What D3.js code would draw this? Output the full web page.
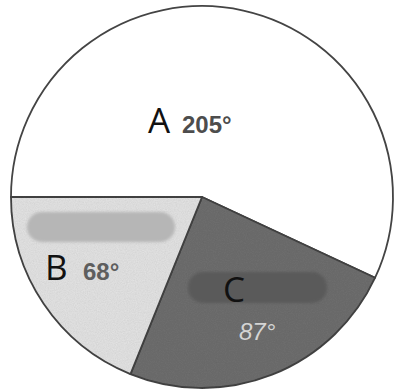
<!DOCTYPE html>
<html><head><meta charset="utf-8">
<script src="https://cdn.jsdelivr.net/npm/d3@7"></script>
<style>html,body{margin:0;padding:0;background:#fff;}svg{display:block;}</style>
</head><body>
<script>
const categories = ["A", "B", "C"];
const degrees = [205, 68, 87];
const labels = ["205°", "68°", "87°"];
const drawOrder = ["A", "C", "B"]; // clockwise from the left horizontal

const W = 395, H = 392;
const cx = 202, cy = 197, R = 191;
const fills = {A: "#ffffff", B: "#e5e5e5", C: "#6f6f6f"};

const svg = d3.select("body").append("svg").attr("width", W).attr("height", H);
const defs = svg.append("defs");
const blur = defs.append("filter").attr("id", "blur").attr("x", "-20%").attr("y", "-50%").attr("width", "140%").attr("height", "200%");
blur.append("feGaussianBlur").attr("stdDeviation", 1.5);
const grain = defs.append("filter").attr("id", "grain");
grain.append("feTurbulence").attr("type", "fractalNoise").attr("baseFrequency", 0.9).attr("numOctaves", 2).attr("seed", 3).attr("result", "n");
grain.append("feColorMatrix").attr("in", "n").attr("type", "matrix")
  .attr("values", "0 0 0 0 0  0 0 0 0 0  0 0 0 0 0  0 0 0 0.18 0").attr("result", "a");
grain.append("feComposite").attr("in", "a").attr("in2", "SourceGraphic").attr("operator", "in").attr("result", "g");
grain.append("feMerge").selectAll("feMergeNode").data(["SourceGraphic", "g"]).join("feMergeNode").attr("in", d => d);

const data = drawOrder.map(c => ({cat: c, value: degrees[categories.indexOf(c)], label: labels[categories.indexOf(c)]}));
const pie = d3.pie().sort(null).value(d => d.value)
  .startAngle(-Math.PI / 2).endAngle(3 * Math.PI / 2);
const arc = d3.arc().innerRadius(0).outerRadius(R);
const arcs = pie(data);

const g = svg.append("g").attr("transform", `translate(${cx},${cy})`);
g.selectAll("path.slice").data(arcs).join("path").attr("class", "slice")
  .attr("d", arc)
  .attr("fill", d => fills[d.data.cat])
  .attr("filter", d => d.data.cat === "A" ? null : "url(#grain)")
  .attr("stroke", "#444").attr("stroke-width", 1.8).attr("stroke-linejoin", "round");

// redaction smudges (decorative)
const smudges = [
  {x: -175, y: 15, w: 148, h: 30, fill: "#b6b6b6"},
  {x: -14, y: 75, w: 139, h: 31, fill: "#5a5a5a"}
];
g.selectAll("rect.smudge").data(smudges).join("rect").attr("class", "smudge")
  .attr("x", d => d.x).attr("y", d => d.y).attr("width", d => d.w).attr("height", d => d.h)
  .attr("rx", 15).attr("fill", d => d.fill).attr("filter", "url(#blur)");

// labels
const letterPos = {A: [-54, -64], B: [-157, 83], C: [21, 105]};
const degPos = {A: [-20, -64], B: [-119, 83], C: [37, 143]};
const degStyle = {
  A: {fill: "#4d4d4d", style: "normal", weight: "bold"},
  B: {fill: "#5e5e5e", style: "normal", weight: "bold"},
  C: {fill: "#d4d4d4", style: "italic", weight: "normal"}
};
g.selectAll("text.letter").data(arcs).join("text").attr("class", "letter")
  .attr("x", d => letterPos[d.data.cat][0]).attr("y", d => letterPos[d.data.cat][1])
  .attr("font-family", "'Open Sans', sans-serif").attr("font-size", 35)
  .attr("fill", "#111").text(d => d.data.cat);
g.selectAll("text.deg").data(arcs).join("text").attr("class", "deg")
  .attr("x", d => degPos[d.data.cat][0]).attr("y", d => degPos[d.data.cat][1])
  .attr("font-family", "'Liberation Sans', Arial, sans-serif")
  .attr("font-size", 24).attr("font-weight", d => degStyle[d.data.cat].weight)
  .attr("font-style", d => degStyle[d.data.cat].style)
  .attr("fill", d => degStyle[d.data.cat].fill).text(d => d.data.label);
</script>
</body></html>
